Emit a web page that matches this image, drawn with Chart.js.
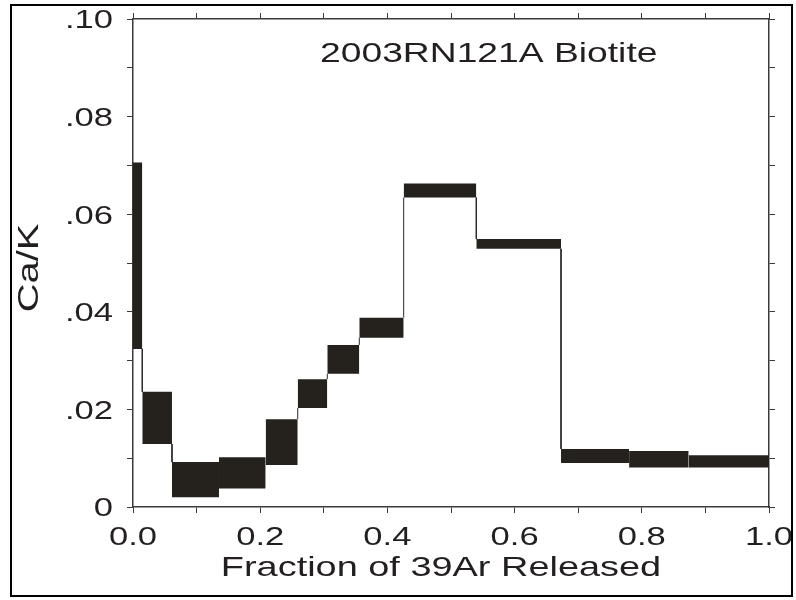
<!DOCTYPE html>
<html><head><meta charset="utf-8">
<script src="https://cdn.jsdelivr.net/npm/chart.js@4.4.1/dist/chart.umd.min.js"></script>
<style>html,body{margin:0;padding:0;background:#fff}canvas{display:block}</style>
</head><body>
<canvas id="c" width="796" height="600"></canvas>
<script>
// ---- data ----
const fractionStart = [0.0000, 0.0146, 0.0613, 0.1352, 0.2086, 0.2590, 0.3055, 0.3558, 0.4256, 0.5398, 0.6730, 0.7800, 0.8737];
const fractionEnd   = [0.0146, 0.0613, 0.1352, 0.2086, 0.2590, 0.3055, 0.3558, 0.4256, 0.5398, 0.6730, 0.7800, 0.8737, 1.0000];
const caKLow  = [0.0324, 0.0129, 0.0020, 0.0038, 0.0086, 0.0203, 0.0273, 0.0347, 0.0634, 0.0529, 0.0090, 0.0081, 0.0081];
const caKHigh = [0.0706, 0.0236, 0.0092, 0.0102, 0.0180, 0.0262, 0.0332, 0.0388, 0.0663, 0.0549, 0.0119, 0.0115, 0.0106];
const xTickValues = [0, 0.2, 0.4, 0.6, 0.8, 1.0];
const xTickLabels = ['0.0', '0.2', '0.4', '0.6', '0.8', '1.0'];
const yTickValues = [0, 0.02, 0.04, 0.06, 0.08, 0.10];
const yTickLabels = ['0', '.02', '.04', '.06', '.08', '.10'];
const chartTitle = '2003RN121A Biotite';
const xTitle = 'Fraction of 39Ar Released';
const yTitle = 'Ca/K';

// ---- styles ----
const BOX_COLOR = '#25221e';
const AXIS_COLOR = '#3a3a3a';
const TEXT_COLOR = '#231f20';
const FONT = '"Liberation Sans", Arial, sans-serif';
const STRETCH = 1.33;

// boxes
const datasets = [];
for (let i = 0; i < fractionStart.length; i++) {
  datasets.push({
    type: 'line',
    data: [{x: fractionStart[i], y: caKHigh[i]}, {x: fractionEnd[i], y: caKHigh[i]}],
    borderColor: 'rgba(0,0,0,0)',
    borderWidth: 1,
    pointRadius: 0,
    backgroundColor: BOX_COLOR,
    fill: {target: {value: caKLow[i]}, above: BOX_COLOR, below: BOX_COLOR},
    xAxisID: 'x', yAxisID: 'y'
  });
}
// connector lines between successive steps
const connector = [];
for (let i = 0; i < fractionStart.length - 1; i++) {
  const x = fractionEnd[i];
  let a = null, b = null;
  if (caKHigh[i] < caKLow[i + 1]) { a = caKHigh[i]; b = caKLow[i + 1]; }
  else if (caKLow[i] > caKHigh[i + 1]) { a = caKLow[i]; b = caKHigh[i + 1]; }
  if (a !== null) connector.push({x, y: a}, {x, y: b}, {x, y: null});
}
datasets.push({
  type: 'line', data: connector, borderColor: '#2a2a2a', borderWidth: 1,
  pointRadius: 0, fill: false, spanGaps: false, xAxisID: 'x', yAxisID: 'y'
});

function axis(position, min, max, step, size) {
  return {
    type: 'linear', position, min, max,
    ticks: {display: false, stepSize: step, autoSkip: false},
    grid: {display: true, drawOnChartArea: false, drawTicks: true, tickLength: 6, color: AXIS_COLOR, lineWidth: 1},
    border: {display: true, color: AXIS_COLOR, width: 1.5},
    afterFit(scale) { if (scale.isHorizontal()) scale.height = size; else scale.width = size; }
  };
}

function drawText(ctx, text, x, y, size, align, rot) {
  ctx.save();
  ctx.translate(x, y);
  if (rot) ctx.rotate(rot);
  ctx.scale(STRETCH, 1);
  ctx.font = size + 'px ' + FONT;
  ctx.fillStyle = TEXT_COLOR;
  ctx.textAlign = align;
  ctx.textBaseline = 'alphabetic';
  ctx.fillText(text, 0, 0);
  ctx.restore();
}

const decor = {
  id: 'decor',
  beforeDraw(chart) {
    const ctx = chart.ctx;
    ctx.save(); ctx.fillStyle = '#fff'; ctx.fillRect(0, 0, chart.width, chart.height); ctx.restore();
  },
  afterDraw(chart) {
    const ctx = chart.ctx, xs = chart.scales.x, ys = chart.scales.y;
    xTickValues.forEach((v, i) => drawText(ctx, xTickLabels[i], xs.getPixelForValue(v), 545, 26, 'center', 0));
    yTickValues.forEach((v, i) => drawText(ctx, yTickLabels[i], 113, ys.getPixelForValue(v) + 9.3, 26, 'right', 0));
    drawText(ctx, chartTitle, 320, 62, 28, 'left', 0);
    drawText(ctx, xTitle, 441, 576, 28.5, 'center', 0);
    drawText(ctx, yTitle, 38, 268, 30, 'center', -Math.PI / 2);
    ctx.save(); ctx.strokeStyle = '#000'; ctx.lineWidth = 2; ctx.strokeRect(11, 5, 781, 591); ctx.restore();
  }
};

new Chart(document.getElementById('c'), {
  type: 'line',
  data: {datasets},
  options: {
    responsive: false,
    devicePixelRatio: 1,
    animation: false,
    layout: {padding: 0},
    plugins: {legend: {display: false}, tooltip: {enabled: false}, title: {display: false}},
    events: [],
    scales: {
      x: axis('bottom', 0, 1, 0.1, 93),
      x2: axis('top', 0, 1, 0.1, 19),
      y: axis('left', 0, 0.1, 0.01, 133),
      y2: axis('right', 0, 0.1, 0.01, 27)
    }
  },
  plugins: [decor]
});
</script>
</body></html>
